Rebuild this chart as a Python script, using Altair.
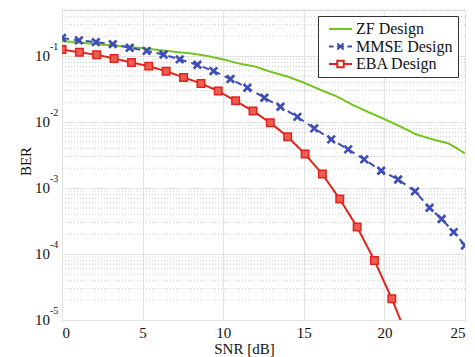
import altair as alt
import pandas as pd

# ---------------- data ----------------
series_names = ["ZF Design", "MMSE Design", "EBA Design"]
series_colors = ["#73c41d", "#3d4db7", "#e2231a"]

zf_snr = [0, 1, 2, 3, 4, 5, 6, 7, 8, 9, 10, 11, 12, 13, 14, 15, 16, 17, 18, 19, 20, 21, 22, 23, 24, 25]
zf_ber = [0.169, 0.161, 0.153, 0.146, 0.139, 0.132, 0.124, 0.116, 0.110, 0.1007,
          0.0891, 0.0769, 0.0693, 0.0573, 0.0489, 0.0396, 0.0310, 0.0248, 0.0184, 0.0142,
          0.0111, 0.00855, 0.00647, 0.00547, 0.00472, 0.00336]

mmse_snr = [0, 1.05, 2.1, 3.15, 4.2, 5.25, 6.3, 7.3, 8.4, 9.4, 10.45, 11.5, 12.55, 13.55,
            14.6, 15.65, 16.7, 17.75, 18.75, 19.8, 20.85, 21.9, 22.8, 23.55, 24.3, 25]
mmse_ber = [0.189, 0.173, 0.163, 0.152, 0.134, 0.120, 0.106, 0.0891, 0.0738, 0.0593,
            0.0449, 0.0331, 0.0234, 0.0171, 0.0120, 0.00803, 0.00547, 0.00386, 0.00272,
            0.00183, 0.00135, 8.92e-4, 5.03e-4, 3.39e-4, 2.15e-4, 1.35e-4]

eba_snr = [0, 1.08, 2.15, 3.23, 4.31, 5.38, 6.46, 7.54, 8.62, 9.69, 10.77, 11.85, 12.92,
           14.0, 15.08, 16.15, 17.23, 18.31, 19.38, 20.46, 21.54]
eba_ber = [0.126, 0.114, 0.105, 0.092, 0.080, 0.0705, 0.059, 0.0475, 0.0386, 0.0295,
           0.021, 0.0147, 0.00975, 0.00598, 0.00327, 0.00163, 6.8e-4, 2.56e-4, 8.0e-5,
           2.1e-5, 4.7e-6]

x_ticks = [0, 5, 10, 15, 20, 25]
y_decades = [1e-1, 1e-2, 1e-3, 1e-4, 1e-5]
y_exponents = ["-1", "-2", "-3", "-4", "-5"]
minor_mantissas = [2, 3, 4, 5, 6, 7, 8, 9]
minor_exponents = [-5, -4, -3, -2, -1]

# ---------------- tables ----------------
rows = []
for n, xs, ys in [(series_names[0], zf_snr, zf_ber),
                  (series_names[1], mmse_snr, mmse_ber),
                  (series_names[2], eba_snr, eba_ber)]:
    for xv, yv in zip(xs, ys):
        rows.append({"series": n, "snr": xv, "ber": yv})
df = pd.DataFrame(rows)

minor_vals = [m * 10.0 ** e for e in minor_exponents for m in minor_mantissas]
minor_vals = [v for v in minor_vals if v <= 0.5]
df_minor = pd.DataFrame({"ber": minor_vals})
df_dec = pd.DataFrame({"ber": y_decades, "base": ["10"] * len(y_decades), "exp": y_exponents})
df_leg = pd.DataFrame({"series": series_names})

FONT = "'Liberation Serif', 'Times New Roman', serif"

xscale = alt.Scale(domain=[0, 25], nice=False, zero=False)
yscale = alt.Scale(type="log", domain=[1e-5, 0.5], nice=False)

x_axis = alt.Axis(values=x_ticks, grid=True, gridColor="#e2e2e2", gridWidth=1,
                  ticks=False, domain=False, labelFont=FONT, labelFontSize=15,
                  labelColor="#111", labelPadding=5,
                  title="SNR [dB]", titleFont=FONT, titleFontSize=15,
                  titleFontWeight="normal", titleColor="#111",
                  titleX=182, titleY=28, titleAlign="center", titleBaseline="middle")
y_axis = alt.Axis(values=y_decades, grid=True, gridColor="#e2e2e2", gridWidth=1,
                  labels=False, ticks=False, domain=False,
                  title="BER", titleFont=FONT, titleFontSize=15,
                  titleFontWeight="normal", titleColor="#111",
                  titleX=-37, titleY=151, titleAngle=270, titleAlign="center",
                  titleBaseline="middle")

X = alt.X("snr:Q", scale=xscale, axis=x_axis)
Y = alt.Y("ber:Q", scale=yscale, axis=y_axis)

minor = alt.Chart(df_minor).mark_rule(color="#cfcfcf", strokeWidth=1, strokeDash=[1, 2]).encode(
    y=Y
)

lines = alt.Chart(df).mark_line(strokeWidth=2, clip=True).encode(
    x=X, y=Y,
    color=alt.Color("series:N", scale=alt.Scale(domain=series_names, range=series_colors), legend=None),
    strokeDash=alt.StrokeDash("series:N",
                              scale=alt.Scale(domain=series_names, range=[[1, 0], [7, 5], [1, 0]]),
                              legend=None),
)

xpath = "M-1,-1L1,1M-1,1L1,-1"
mmse_pts = alt.Chart(df[df.series == series_names[1]]).mark_point(
    shape=xpath, filled=False, size=56, strokeWidth=2.7, color=series_colors[1], opacity=1, clip=True
).encode(x=X, y=Y)

eba_pts = alt.Chart(df[df.series == series_names[2]]).mark_point(
    shape="square", filled=True, size=56, fill="#ee5d52", stroke=series_colors[2],
    strokeWidth=1.5, opacity=1, clip=True
).encode(x=X, y=Y)

dec_base = alt.Chart(df_dec).mark_text(font=FONT, fontSize=15, align="right", baseline="middle",
                                       color="#111").encode(
    x=alt.value(-12), y=Y, text="base:N"
)
dec_exp = alt.Chart(df_dec).mark_text(font=FONT, fontSize=10, align="left", baseline="middle",
                                      dy=-9, color="#111").encode(
    x=alt.value(-12), y=Y, text="exp:N"
)

leg_paths = [
    "M-1,0L1,0",
    "M-1,0L-0.6,0M-0.3,0L0.3,0M0.6,0L1,0M-0.27,-0.27L0.27,0.27M-0.27,0.27L0.27,-0.27",
    "M-1,0L-0.28,0M0.28,0L1,0M-0.28,-0.28L0.28,-0.28L0.28,0.28L-0.28,0.28Z",
]
pad = "\u00a0" * 3
leg = alt.Legend(orient="none", legendX=256, legendY=6, title=None, padding=5,
                 symbolOffset=5, labelOffset=3, symbolSize=529, symbolStrokeWidth=2,
                 symbolOpacity=1, clipHeight=16, rowPadding=1.5,
                 labelFont=FONT, labelFontSize=16, labelColor="#111",
                 strokeColor="#333", fillColor="white",
                 labelExpr="datum.label + '" + pad + "'")
legend_layer = alt.Chart(df_leg).mark_point(filled=False, size=529, strokeWidth=2, opacity=0).encode(
    x=alt.value(0), y=alt.value(0),
    color=alt.Color("series:N", scale=alt.Scale(domain=series_names, range=series_colors), legend=leg),
    shape=alt.Shape("series:N", scale=alt.Scale(domain=series_names, range=leg_paths), legend=leg),
)

chart = alt.layer(minor, lines, mmse_pts, eba_pts, dec_base, dec_exp, legend_layer).resolve_scale(
    color="independent", shape="independent", strokeDash="independent"
).properties(
    width=403, height=310,
    autosize=alt.AutoSizeParams(type="none"),
    padding={"left": 54, "top": 2, "right": 2, "bottom": 37},
    background="white",
).configure_view(stroke="#383838", strokeWidth=2).configure_legend(
    labelFont=FONT, labelFontSize=16
).configure(font=FONT)

chart.save("out.html", embed_options={"renderer": "svg", "actions": False})
